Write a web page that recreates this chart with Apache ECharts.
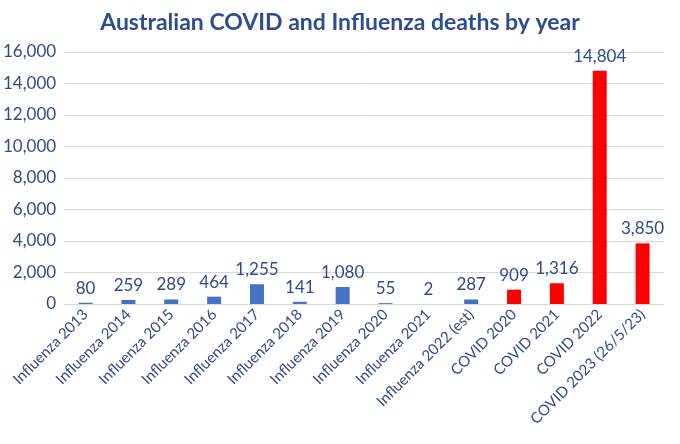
<!DOCTYPE html>
<html><head><meta charset="utf-8">
<script src="https://cdn.jsdelivr.net/npm/echarts@6/dist/echarts.min.js"></script>
<style>html,body{margin:0;padding:0;background:#fff}#c{width:680px;height:444px}</style>
</head><body><div id="c"></div>
<script>
const categories=["Influenza 2013","Influenza 2014","Influenza 2015","Influenza 2016","Influenza 2017","Influenza 2018","Influenza 2019","Influenza 2020","Influenza 2021","Influenza 2022 (est)","COVID 2020","COVID 2021","COVID 2022","COVID 2023 (26/5/23)"];
const deaths=[80,259,289,464,1255,141,1080,55,2,287,909,1316,14804,3850];
const isCovid=[0,0,0,0,0,0,0,0,0,0,1,1,1,1];
const textColor="#2F4B8C";
const chart=echarts.init(document.getElementById('c'));
chart.setOption({
 animation:false,
 title:{text:"Australian COVID and Influenza deaths by year",left:'center',top:6,textStyle:{fontFamily:"Lato",fontSize:23,fontWeight:'bold',color:"#2E4D8F"}},
 grid:{left:62,right:16,top:52,bottom:140},
 xAxis:{type:'category',data:categories,axisTick:{show:false},axisLine:{lineStyle:{color:'#d9d9d9'}},
  axisLabel:{rotate:45,interval:0,color:textColor,fontSize:15,fontFamily:"Lato",margin:8}},
 yAxis:{type:'value',min:0,max:16000,interval:2000,axisLine:{show:false},
  splitLine:{lineStyle:{color:'#d9d9d9'}},
  axisLabel:{color:textColor,fontSize:17,fontFamily:"Lato",formatter:v=>v.toLocaleString('en-US')}},
 series:[{type:'bar',barWidth:14,
  data:deaths.map((v,i)=>({value:v,itemStyle:{color:isCovid[i]?'#FF0000':'#4472C4'}})),
  label:{show:true,position:'top',distance:6,color:textColor,fontSize:17,fontFamily:"Lato",formatter:p=>p.value.toLocaleString('en-US')}}]
});
</script></body></html>
